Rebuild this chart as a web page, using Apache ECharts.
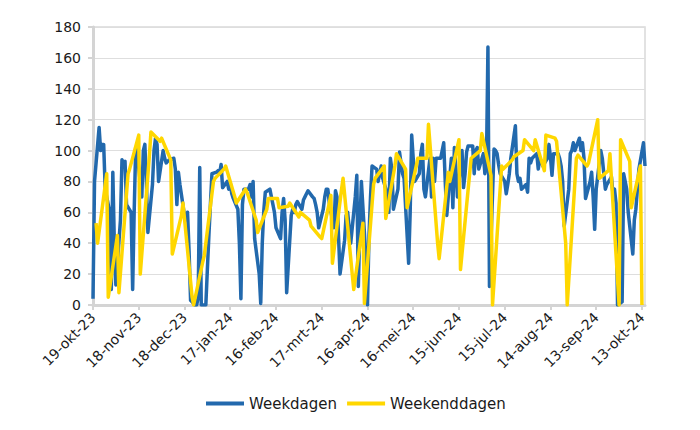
<!DOCTYPE html>
<html><head><meta charset="utf-8">
<script src="https://cdn.jsdelivr.net/npm/echarts@6/dist/echarts.min.js"></script>
<style>html,body{margin:0;padding:0;background:#fff}#c{width:700px;height:430px}</style>
</head><body><div id="c"></div>
<script>
const startDate = [2023, 9, 19];   // 19-okt-23
const endDate = [2024, 9, 15];     // 15-okt-24
const monthNames = ['jan','feb','mrt','apr','mei','jun','jul','aug','sep','okt','nov','dec'];
const yTicks = [0, 20, 40, 60, 80, 100, 120, 140, 160, 180];

// Weekday values (Mon-Fri), in date order
const weekdayValues = [
  4, 80,
  115, 100, 104, 104, 75,
  60, 10, 86, 40, 13,
  55, 94, 92, 93, 65,
  60, 10, 60, 102, 98,
  70, 100, 104, 80, 47,
  78, 100, 108, 104, 80,
  100, 95, 92, 93, 94,
  95, 88, 65, 86, 78,
  58, 55, 60, 35, 3,
  0, 0, 5, 89, 0,
  0, 23, 45, 65, 85,
  86, 87, 85, 91, 76,
  80, 75, 79, 72, 69,
  62, 40, 4, 65, 75,
  75, 78, 70, 80, 43,
  20, 1, 40, 61, 73,
  75, 70, 65, 60, 50,
  43, 60, 69, 55, 8,
  58, 62, 60, 65, 67,
  62, 68, 70, 72, 74,
  70, 69, 65, 60, 50,
  62, 70, 75, 75, 66,
  50, 74, 70, 45, 20,
  42, 58, 60, 50, 40,
  70, 84, 12, 50, 80,
  30, 0, 45, 70, 90,
  88, 80, 85, 90, 82,
  72, 60, 95, 88, 62,
  75, 99, 92, 85, 82,
  27, 60, 110, 95, 80,
  85, 98, 104, 75, 70,
  95, 70, 95, 80, 95,
  95, 100, 105, 80, 58,
  95, 63, 102, 88, 70,
  100, 76, 85, 99, 103,
  103, 85, 100, 102, 88,
  98, 85, 90, 167, 12,
  101, 100, 98, 91, 85,
  80, 72, 78, 85, 95,
  116, 85, 80, 82, 75,
  78, 73, 95, 92, 95,
  98, 88, 95, 93, 90,
  95, 104, 96, 84, 98,
  98, 95, 90, 80, 51,
  75, 98, 100, 105, 100,
  108, 100, 105, 95, 69,
  80, 86, 70, 49, 75,
  100, 95, 85, 75, 78,
  83, 72, 75, 66, 0,
  2, 85, 80, 75, 60,
  33, 55, 62, 75, 88,
  105, 90
];

// Weekend values (Sat, Sun), in date order
const weekendValues = [
  53, 40,  85, 5,  45, 8,  85, 88,  110, 20,  97, 112,  106, 108,  94, 33,
  58, 66,  5, 0,  28, 32,  80, 82,  88, 90,  70, 66,  75, 73,  55, 47,
  62, 69,  69, 63,  64, 66,  57, 60,  55, 51,  44, 43,  71, 27,  75, 82,
  20, 10,  53, 1,  78, 82,  90, 56,  90, 98,  88, 63,  90, 95,  95, 117,
  40, 30,  86, 80,  107, 23,  85, 95,  100, 111,  84, 0,  90, 88,  94, 96,
  100, 107,  100, 107,  87, 110,  108, 106,  40, 0,  95, 97,  90, 92,  120, 82,
  87, 98,  0, 107,  93, 63,  90, 0
];

const categories = [];
const blueData = [];
const yellowData = [];
let wi = 0, ei = 0;
const d = new Date(startDate[0], startDate[1], startDate[2], 12);
const end = new Date(endDate[0], endDate[1], endDate[2], 12);
while (d <= end) {
  categories.push(d.getDate() + '-' + monthNames[d.getMonth()] + '-' + String(d.getFullYear()).slice(2));
  const dow = d.getDay();
  if (dow === 0 || dow === 6) {
    yellowData.push(ei < weekendValues.length ? weekendValues[ei++] : null);
    blueData.push(null);
  } else {
    blueData.push(wi < weekdayValues.length ? weekdayValues[wi++] : null);
    yellowData.push(null);
  }
  d.setDate(d.getDate() + 1);
}

const FONT = '"DejaVu Sans", Verdana, sans-serif';
const chart = echarts.init(document.getElementById('c'), null, {renderer: 'svg', devicePixelRatio: 1});
chart.setOption({
  animation: false,
  backgroundColor: '#fff',
  grid: {left: 93, right: 55, top: 27, bottom: 125, show: true, borderColor: '#d9d9d9', borderWidth: 1.5, containLabel: false, outerBoundsMode: 'none'},
  xAxis: {
    type: 'category', data: categories, boundaryGap: false,
    axisLine: {show: true, lineStyle: {color: '#d4d4d4', width: 3}},
    axisTick: {show: true, interval: (i) => i % 30 === 0, length: 5, lineStyle: {color: '#d4d4d4', width: 2}},
    axisLabel: {interval: (i) => i % 30 === 0, rotate: 45, color: '#1a1a1a', fontSize: 14, fontFamily: FONT, margin: 10},
    splitLine: {show: false}
  },
  yAxis: {
    type: 'value', min: yTicks[0], max: yTicks[yTicks.length - 1], interval: 20,
    axisLine: {show: true, lineStyle: {color: '#d4d4d4', width: 3}},
    axisTick: {show: true, length: 5, lineStyle: {color: '#d4d4d4', width: 2}},
    axisLabel: {color: '#1a1a1a', fontSize: 14, fontFamily: FONT, margin: 12},
    splitLine: {show: true, lineStyle: {color: '#dedede', width: 1}}
  },
  legend: {
    bottom: 14, left: 201, itemGap: 10, itemWidth: 38, itemHeight: 4,
    icon: 'rect',
    textStyle: {color: '#1a1a1a', fontSize: 15, fontFamily: FONT},
    data: ['Weekdagen', 'Weekenddagen']
  },
  series: [
    {name: 'Weekdagen', type: 'line', data: blueData, connectNulls: true, showSymbol: false, symbol: 'none',
     itemStyle: {color: '#2269AD'}, lineStyle: {color: '#2269AD', width: 3.5, join: 'round'}},
    {name: 'Weekenddagen', type: 'line', data: yellowData, connectNulls: true, showSymbol: false, symbol: 'none',
     itemStyle: {color: '#FFD700'}, lineStyle: {color: '#FFD700', width: 3.5, join: 'round'}}
  ]
});
</script>
</body></html>
